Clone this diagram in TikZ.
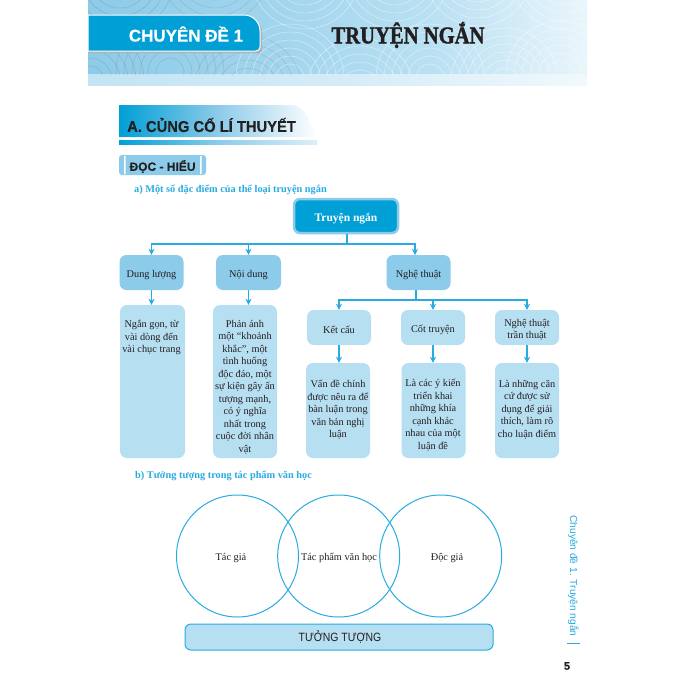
\documentclass[tikz,border=0pt]{standalone}
\usepackage{fontspec}
\setmainfont{Liberation Serif}
\setsansfont{Liberation Sans}[BoldFeatures={FakeBold=0.4}]
\newfontfamily\titlefont{Liberation Serif}[BoldFeatures={FakeBold=1.6}]
\usetikzlibrary{arrows.meta,calc}
\definecolor{cyanA}{HTML}{009FD6}
\definecolor{cyanB}{HTML}{8CCBE9}
\definecolor{cyanC}{HTML}{B7DFF2}
\definecolor{cyanL}{HTML}{29ABE2}
\definecolor{ink}{HTML}{231F20}
\newcommand{\txt}{\fontsize{10.3}{12.5}\selectfont}
\newcommand{\dn}[1]{\raisebox{-2.5pt}[\height][\depth]{#1}}
\pgfdeclarehorizontalshading{bannershade}{100bp}{color(0bp)=(cyanB); color(25bp)=(cyanB); color(45bp)=(cyanB!80!white); color(60bp)=(cyanC!95!white); color(75bp)=(cyanC!30!white); color(100bp)=(cyanC!30!white)}
\tikzset{
  x=1pt,y=-1pt,
  rootbox/.style={draw=cyanB,line width=2.5pt,fill=cyanA,rounded corners=6pt,minimum width=104pt,minimum height=34pt,inner sep=0pt,text=white,font=\fontsize{11.5}{13}\selectfont\bfseries},
  midbox/.style={fill=cyanB,rounded corners=7pt,minimum width=64pt,minimum height=35pt,inner sep=0pt,text=ink,font=\txt,align=center},
  lowbox/.style={fill=cyanC,rounded corners=7pt,minimum width=64pt,minimum height=35pt,inner sep=0pt,text=ink,font=\txt,align=center},
  tallbox/.style={fill=cyanC,rounded corners=7pt,inner sep=0pt},
  bodytext/.style={anchor=north,align=center,text=ink,font=\txt,inner sep=0pt},
  conn/.style={draw=cyanL,line width=1.2pt},
  arr/.style={conn,-{Stealth[length=6pt,width=6pt,inset=1.8pt]}},
  venn/.style={circle,draw=cyanL,line width=1pt,minimum size=122pt,inner sep=0pt},
  vennlabel/.style={text=ink,font=\fontsize{10.3}{12}\selectfont,inner sep=0pt},
  heading/.style={anchor=west,text=cyanL,font=\fontsize{10.3}{11}\selectfont\bfseries,inner sep=0pt},
}
\begin{document}
\begin{tikzpicture}
\useasboundingbox (0,0) rectangle (681,681);
\fill[white] (0,0) rectangle (681,681);
% banner
\shade[shading=bannershade] (88,0) rectangle (587,74);
\shade[left color=cyanC!85!white,right color=cyanC!20!white,middle color=cyanC!60!white,shading angle=90] (88,74) rectangle (587,85);
\begin{scope}
\clip (88,0) rectangle (587,74);
\foreach \cx/\cy/\col/\op in {90/80/gray/0.45,170/72/gray/0.4,248/90/gray/0.35,120/-22/gray/0.45,215/-30/gray/0.35,305/-25/white/0.6,290/78/white/0.6,360/92/white/0.6,430/78/white/0.6,395/-25/white/0.6,505/82/white/0.6,478/-28/white/0.6,560/75/white/0.6,565/-25/white/0.6}{
  \foreach \r in {14,22,...,54}{
    \draw[\col,line width=0.4pt,draw opacity=\op] (\cx,\cy) circle[radius=\r];
  }
}
\end{scope}
% tab
\fill[gray!60] (88,17) -- (246,17) to[out=0,in=90] (262,33) -- (262,49) to[out=-90,in=0] (259,53) -- (88,53) -- cycle;
\fill[cyanA,draw=white,line width=1pt] (88,15) -- (244,15) to[out=0,in=90] (260,31) -- (260,47) to[out=-90,in=0] (256,51) -- (88,51) -- cycle;
\node[text=white,font=\sffamily\bfseries\fontsize{17}{20}\selectfont,inner sep=0pt] (tabtext) at (186,34) {CHUYÊN ĐỀ 1};
\node[text=ink,font=\titlefont\bfseries\fontsize{24}{26}\selectfont,inner sep=0pt,xscale=0.86] (title) at (408,35) {TRUYỆN NGẮN};
% section A
\begin{scope}
\clip (119,105) -- (290,105) to[out=0,in=120] (317,137) -- (119,137) -- cycle;
\shade[left color=cyanA,right color=white,middle color=cyanB] (119,105) rectangle (317,137);
\end{scope}
\shade[left color=cyanA,right color=cyanC!50!white,middle color=cyanB] (119,140) rectangle (317,144);
\node[text=ink,font=\sffamily\bfseries\fontsize{15.6}{18}\selectfont,inner sep=0pt,anchor=west,xscale=0.945] (secA) at (127,125) {A. CỦNG CỐ LÍ THUYẾT};
% doc hieu
\fill[cyanB,rounded corners=3pt] (119,155) rectangle (206,175);
\fill[white] (124,156) rectangle (125.5,174) (200,156) rectangle (201.5,174);
\node[text=ink,font=\sffamily\bfseries\fontsize{12}{14}\selectfont,inner sep=0pt] (doc) at (162.5,166.5) {ĐỌC - HIỂU};
\node[heading] (ha) at (134,190) {a) Một số đặc điểm của thể loại truyện ngắn};
% tree
\node[rootbox] (root) at (346,216) {\dn{Truyện ngắn}};
\coordinate (bus1) at (347,244);
\node[midbox] (dl) at (151.5,272.5) {\dn{Dung lượng}};
\node[midbox,minimum width=65pt] (nd) at (248.5,272.5) {\dn{Nội dung}};
\node[midbox] (nt) at (418.5,272.5) {\dn{Nghệ thuật}};
\coordinate (ntin) at (415,255);
\draw[arr] (root.south -| bus1) -- (bus1) -| (dl.north);
\draw[arr] (bus1) -| (nd.north);
\draw[arr] (bus1) -| (ntin);
\node[tallbox,minimum width=65pt,minimum height=153pt] (b1) at (152.5,381.5) {};
\node[tallbox,minimum width=64pt,minimum height=153pt] (b2) at (245,381.5) {};
\node[bodytext] (t1) at (151.5,320) {Ngắn gọn, từ\\vài dòng đến\\vài chục trang};
\node[bodytext] (t2) at (245,320) {Phản ánh\\một “khoảnh\\khắc”, một\\tình huống\\độc đáo, một\\sự kiện gây ấn\\tượng mạnh,\\có ý nghĩa\\nhất trong\\cuộc đời nhân\\vật};
\draw[arr] (dl.south) -- (b1.north -| dl.south);
\draw[arr] (nd.south) -- (b2.north -| nd.south);
\coordinate (bus2) at (416,300);
\node[lowbox] (kc) at (339,327.5) {\dn{Kết cấu}};
\node[lowbox] (ct) at (433,327.5) {\dn{Cốt truyện}};
\node[lowbox] (tt) at (527,327.5) {\dn{Nghệ thuật}\\\dn{trần thuật}};
\draw[arr] (nt.south -| bus2) -- (bus2) -| (kc.north);
\draw[arr] (bus2) -| (ct.north);
\draw[arr] (bus2) -| (tt.north);
\node[tallbox,minimum width=64pt,minimum height=95pt] (b3) at (338,410.5) {};
\node[tallbox,minimum width=64pt,minimum height=95pt] (b4) at (433.5,410.5) {};
\node[tallbox,minimum width=64pt,minimum height=95pt] (b5) at (527,410.5) {};
\node[bodytext] (t3) at (338,380) {Vấn đề chính\\được nêu ra để\\bàn luận trong\\văn bản nghị\\luận};
\node[bodytext] (t4) at (433,379) {Là các ý kiến\\triển khai\\những khía\\cạnh khác\\nhau của một\\luận đề};
\node[bodytext] (t5) at (527,380) {Là những căn\\cứ được sử\\dụng để giải\\thích, làm rõ\\cho luận điểm};
\draw[arr] (kc.south) -- (b3.north -| kc.south);
\draw[arr] (ct.south) -- (b4.north -| ct.south);
\draw[arr] (tt.south) -- (b5.north -| tt.south);
% venn
\node[heading] (hb) at (135,476) {b) Tưởng tượng trong tác phẩm văn học};
\node[venn] (c1) at (237.5,556) {};
\node[venn] (c2) at (338.7,556) {};
\node[venn] (c3) at (440.7,556) {};
\node[vennlabel] (l1) at (231,558) {Tác giả};
\node[vennlabel] (l2) at (339,558) {Tác phẩm văn học};
\node[vennlabel] (l3) at (447,558) {Độc giả};
\node[draw=cyanL,fill=cyanC,line width=1pt,rounded corners=6pt,minimum width=308pt,minimum height=26pt,inner sep=0pt] (tuong) at (339,637) {};
\node[text=ink,font=\sffamily\fontsize{12}{14}\selectfont,inner sep=0pt,xscale=0.87] (tuongtext) at (340,637) {TƯỞNG TƯỢNG};
% side
\node[rotate=-90,text=cyanL,font=\sffamily\fontsize{10.2}{12}\selectfont,inner sep=0pt] (side) at (573.5,576) {Chuyên đề 1. Truyện ngắn};
\coordinate (tickA) at (567,643);
\coordinate (tickB) at (580,643);
\draw[conn,line width=0.8pt] (tickA) -- (tickB);
\node[text=ink,font=\sffamily\bfseries\fontsize{11}{13}\selectfont,inner sep=0pt] (pg) at (567,666) {5};
\end{tikzpicture}
\end{document}
